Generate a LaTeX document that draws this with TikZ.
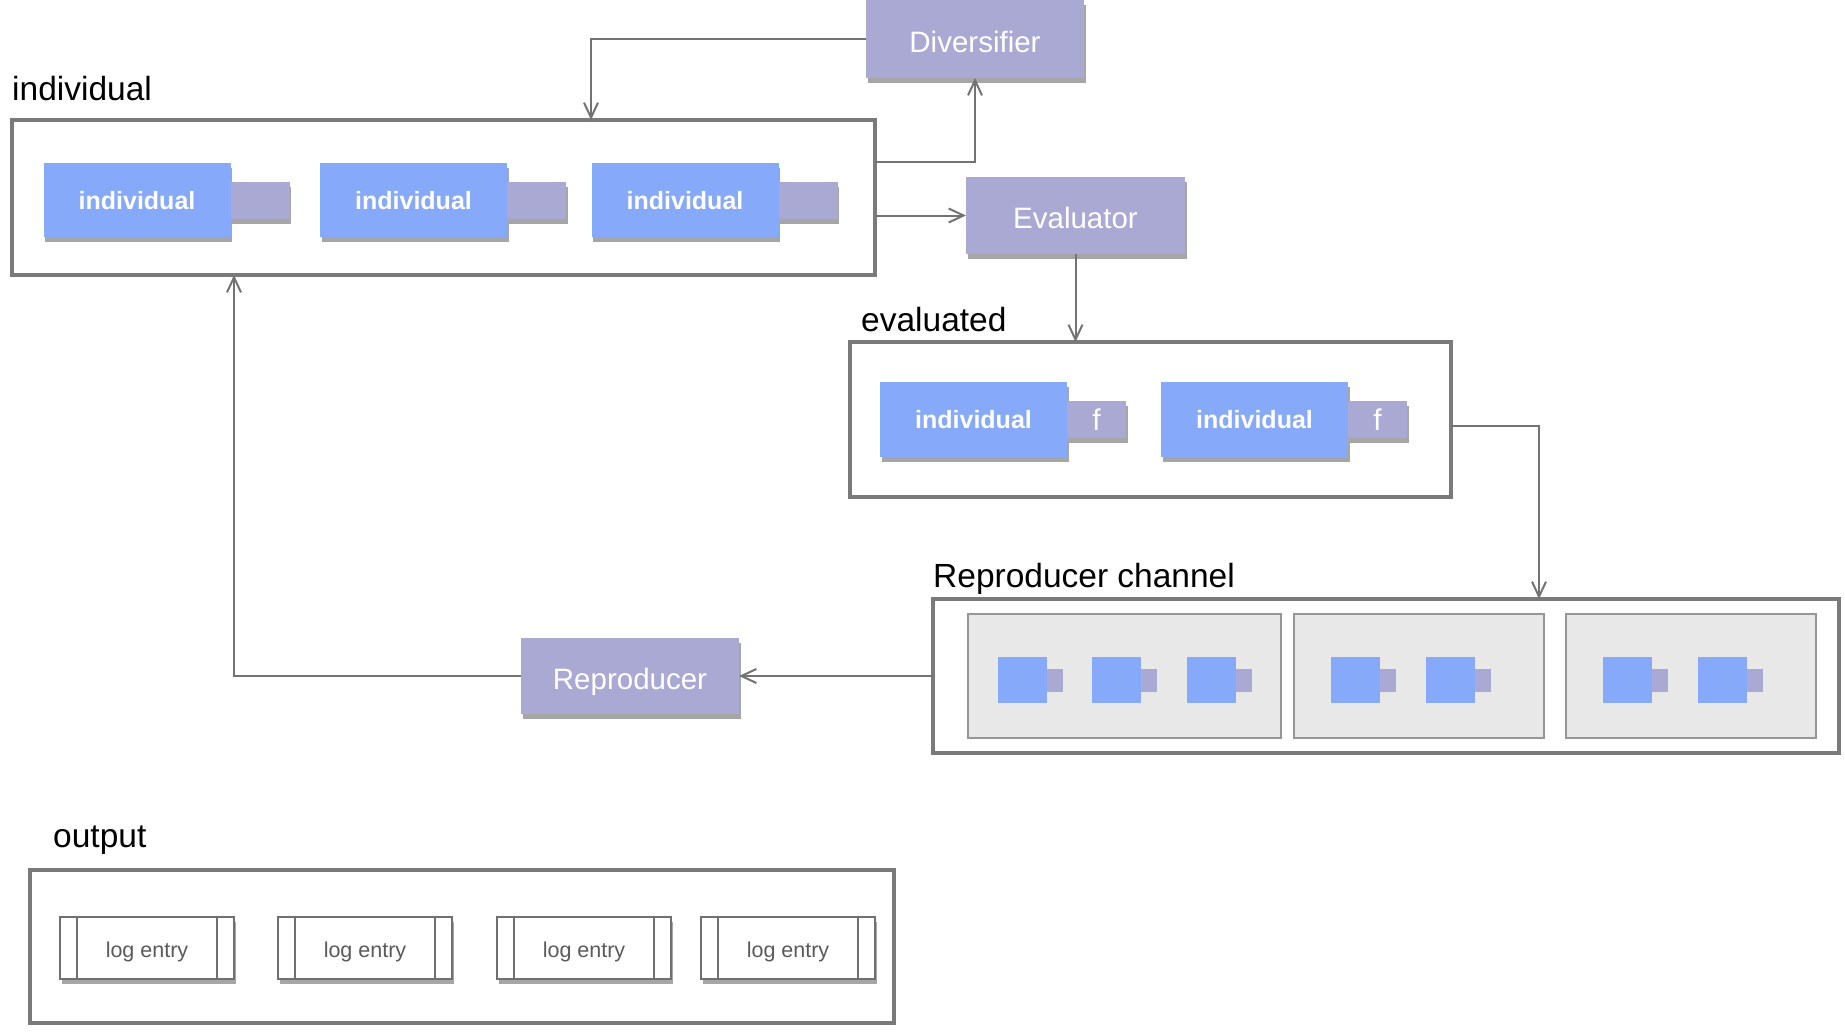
\documentclass[tikz,border=0pt]{standalone}
\usepackage{fontspec}
\setmainfont{Liberation Sans}
\usetikzlibrary{arrows.meta,shadows,calc}
\definecolor{indblue}{RGB}{135,169,249}
\definecolor{procpurple}{RGB}{169,169,212}
\definecolor{framegray}{RGB}{122,122,122}
\definecolor{linegray}{RGB}{115,115,115}
\definecolor{subfill}{RGB}{232,232,232}
\definecolor{subdraw}{RGB}{150,150,150}
\definecolor{logtext}{RGB}{90,90,90}
\definecolor{logdraw}{RGB}{112,112,112}
\tikzset{
  base/.style={anchor=north west, inner sep=0pt, outer sep=0pt},
  shad/.style={drop shadow={shadow xshift=1.5pt, shadow yshift=-5pt, opacity=0.35, fill=black}},
  frame/.style={base, draw=framegray, line width=3.5pt},
  proc/.style={base, fill=procpurple, shad, text=white, text height=26pt, text depth=0pt, font=\fontsize{29.5}{34}\selectfont},
  indiv/.style={base, fill=indblue, shad, text=white, text depth=0pt, font=\bfseries\fontsize{25}{29}\selectfont, minimum width=187pt, minimum height=74pt},
  tabbox/.style={base, fill=procpurple, shad, text=white, text depth=0pt, font=\fontsize{30}{34}\selectfont, minimum width=59pt, minimum height=37pt},
  lbl/.style={anchor=base west, inner sep=0pt, font=\fontsize{33.5}{39}\selectfont},
  subbox/.style={base, fill=subfill, draw=subdraw, line width=2pt},
  mini/.style={base, fill=indblue, minimum width=49pt, minimum height=46pt},
  minitab/.style={base, fill=procpurple, minimum width=16pt, minimum height=23pt},
  logbox/.style={base, fill=white, draw=logdraw, line width=2pt, shad, text=logtext, text height=19pt, text depth=0pt, font=\fontsize{21.5}{25}\selectfont, minimum width=174pt, minimum height=62pt},
  logline/.style={draw=logdraw, line width=2pt},
  conn/.style={draw=linegray, line width=2pt, -{Straight Barb[length=15pt,width=14pt]}},
}
\begin{document}
\begin{tikzpicture}[x=1pt,y=-1pt]
\useasboundingbox (0,0) rectangle (1845,1031);
% frames
\node[frame, minimum width=863pt, minimum height=155pt] (indframe) at (12,120) {};
\node[frame, minimum width=601pt, minimum height=155pt] (evalframe) at (850,342) {};
\node[frame, minimum width=906pt, minimum height=154pt] (chan) at (933,599) {};
\node[frame, minimum width=864pt, minimum height=153pt] (outframe) at (30,870) {};
% labels
\node[lbl] (indlbl) at (12,100) {individual};
\node[lbl] (evlbl) at (861,331) {evaluated};
\node[lbl] (chlbl) at (933,587) {Reproducer channel};
\node[lbl] (outlbl) at (53,847) {output};
% processes
\node[proc, minimum width=218pt, minimum height=78pt] (div) at (866,0) {Diversifier};
\node[proc, minimum width=219pt, minimum height=77pt] (eval) at (966,177) {Evaluator};
\node[proc, minimum width=218pt, minimum height=76pt] (repro) at (521,638) {Reproducer};
% individuals
\foreach \n/\x in {1/43.5, 2/320, 3/591.5} {
  \node[indiv] (ind\n) at (\x,163) {individual};
  \node[tabbox] (indtab\n) at ($(ind\n.north east)+(0,19)$) {};
}
% evaluated individuals
\foreach \n/\x in {1/880, 2/1161} {
  \node[indiv, minimum height=75pt] (ev\n) at (\x,382) {individual};
  \node[tabbox] (evtab\n) at ($(ev\n.north east)+(0,19)$) {f};
}
% channel sub boxes
\node[subbox, minimum width=313pt, minimum height=124pt] (sub1) at (968,614) {};
\node[subbox, minimum width=250pt, minimum height=124pt] (sub2) at (1294,614) {};
\node[subbox, minimum width=250pt, minimum height=124pt] (sub3) at (1566,614) {};
\foreach \n/\x in {1/998,2/1092,3/1187,4/1331,5/1426,6/1603,7/1698} {
  \node[mini] (m\n) at (\x,657) {};
  \node[minitab] (mt\n) at ($(m\n.north east)+(0,12)$) {};
}
% log entries
\foreach \n/\x in {1/60,2/278,3/497,4/701} {
  \node[logbox] (log\n) at (\x,917) {log entry};
  \draw[logline] ($(log\n.north west)+(17,0)$) -- ($(log\n.south west)+(17,0)$);
  \draw[logline] ($(log\n.north east)+(-17,0)$) -- ($(log\n.south east)+(-17,0)$);
}
% helper coordinates
\coordinate (divx) at (591,0);
\coordinate (chx) at (1539,0);
\coordinate (repx) at (234,0);
% connectors
\draw[conn] (div.west) -| (indframe.north -| divx);
\draw[conn] ($(indframe.north east)+(0,42)$) -| (div.south);
\draw[conn] (eval.west -| indframe.east) -- (eval.west);
\draw[conn] (eval.south) -- (eval.south |- evalframe.north);
\draw[conn] ($(evalframe.east)+(0,6)$) -| (chan.north -| chx);
\draw[conn] (chan.west) -- (repro.east);
\draw[conn] (repro.west) -| (indframe.south -| repx);
\end{tikzpicture}
\end{document}
